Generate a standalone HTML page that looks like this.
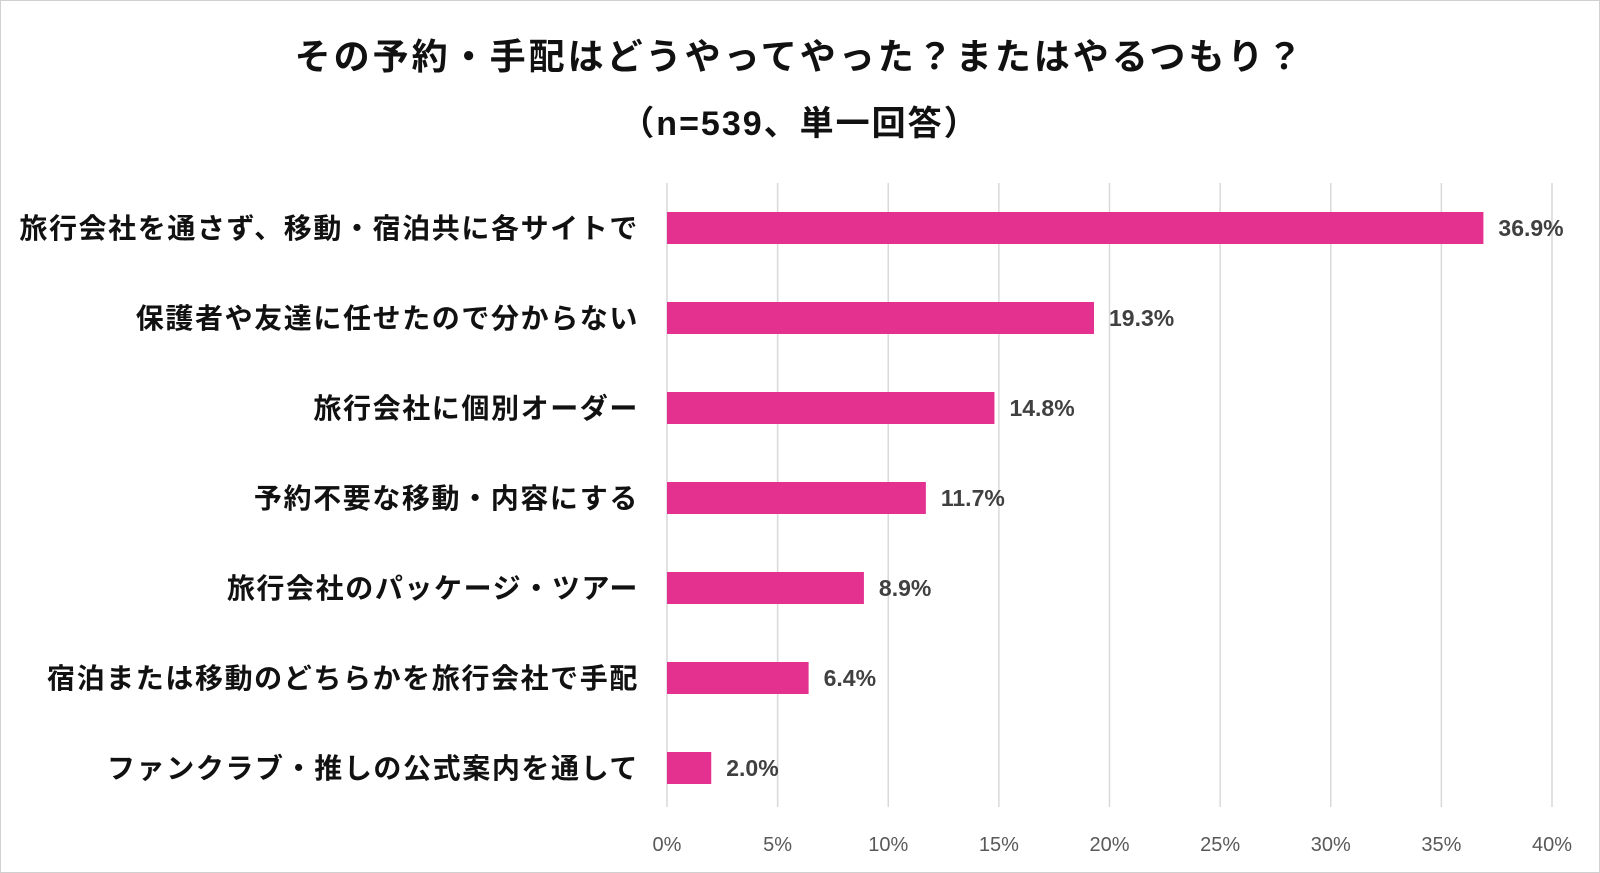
<!DOCTYPE html>
<html><head><meta charset="utf-8"><style>
body{margin:0;background:#fff;}
#wrap{position:relative;width:1598px;height:871px;border:1px solid #d0d0d0;overflow:hidden;font-family:"Liberation Sans","Noto Sans CJK JP",sans-serif;}
.t{position:absolute;left:0;width:1598px;text-align:center;font-weight:bold;color:#111;}
</style></head><body>
<div id="wrap">
<div class="t" style="top:27px;font-size:36px;letter-spacing:3px">その予約・手配はどうやってやった？またはやるつもり？</div>
<div class="t" style="top:95px;font-size:34px;letter-spacing:2px">（n=539、単一回答）</div>
<svg id="c" width="1600" height="873" style="position:absolute;left:0;top:0"></svg>
</div>
<script>
const categories=["旅行会社を通さず、移動・宿泊共に各サイトで","保護者や友達に任せたので分からない","旅行会社に個別オーダー","予約不要な移動・内容にする","旅行会社のパッケージ・ツアー","宿泊または移動のどちらかを旅行会社で手配","ファンクラブ・推しの公式案内を通して"];
const values=[36.9,19.3,14.8,11.7,8.9,6.4,2.0];
const ticks=[0,5,10,15,20,25,30,35,40];
const svg=document.getElementById('c');
const NS='http://www.w3.org/2000/svg';
const x0=666,x1=1551,xmax=40;
const xs=v=>x0+(x1-x0)*v/xmax;
const yTop=211,step=90,bh=32;
function mk(t,a){const e=document.createElementNS(NS,t);for(const k in a)e.setAttribute(k,a[k]);svg.appendChild(e);return e;}
ticks.forEach(t=>{
 const l=mk('line',{x1:xs(t),x2:xs(t),y1:182,y2:806,stroke:'#d9d9d9','stroke-width':1.5});
 
 
 const tx=mk('text',{x:xs(t),y:850,'text-anchor':'middle','font-size':20,fill:'#595959','font-family':'Liberation Sans, sans-serif'});
 tx.textContent=t+'%';
 
 
});
categories.forEach((c,i)=>{
 const y=yTop+i*step;
 const r=mk('rect',{x:x0,y:y,width:xs(values[i])-x0,height:bh,fill:'#e4308f'});
 
 
 const v=mk('text',{x:xs(values[i])+15,y:y+bh/2+8,'font-size':23,'font-weight':'bold',fill:'#404040','font-family':'Liberation Sans, sans-serif'});
 v.textContent=values[i].toFixed(1)+'%';
 
 
 const lb=mk('text',{x:638,y:y+bh/2+10,'text-anchor':'end','font-size':28,'letter-spacing':1.6,'font-weight':'bold',fill:'#111','font-family':'Liberation Sans, Noto Sans CJK JP, sans-serif'});
 lb.textContent=c;
 
 
});
</script>
</body></html>
